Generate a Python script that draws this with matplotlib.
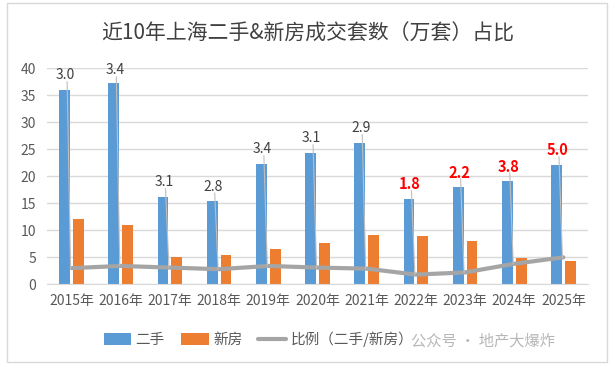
import matplotlib
matplotlib.use("Agg")
import matplotlib.pyplot as plt
from matplotlib.patches import Rectangle
import numpy as np

plt.rcParams['font.family'] = ['Noto Sans CJK SC', 'DejaVu Sans']

years = ["2015年", "2016年", "2017年", "2018年", "2019年", "2020年",
         "2021年", "2022年", "2023年", "2024年", "2025年"]
second_hand = [36.0, 37.3, 16.2, 15.4, 22.3, 24.3, 26.2, 15.8, 18.0, 19.1, 22.1]
new_house = [12.1, 11.0, 5.1, 5.4, 6.5, 7.6, 9.1, 8.9, 8.0, 4.9, 4.3]
ratio = [3.0, 3.4, 3.1, 2.8, 3.4, 3.1, 2.9, 1.8, 2.2, 3.8, 5.0]
highlight = [False] * 7 + [True] * 4

BLUE = "#5B9BD5"
ORANGE = "#ED7D31"
GRAY = "#A5A5A5"
TXT = "#595959"

fig = plt.figure(figsize=(6.15, 3.69), dpi=100)
ax = fig.add_axes([0.0764, 0.2295, 0.8797, 0.5855])

x = np.arange(len(years))
w = 0.22
b1 = ax.bar(x - 0.14, second_hand, w, color=BLUE, label="二手", zorder=2)
b2 = ax.bar(x + 0.14, new_house, w, color=ORANGE, label="新房", zorder=2)
l1, = ax.plot(x, ratio, color=GRAY, lw=3, label="比例（二手/新房）", zorder=3,
              solid_capstyle='round', solid_joinstyle='round')

for i in range(len(years)):
    ly = min(second_hand[i] + 2.7, 39.6)
    ax.plot([x[i] - 0.02, x[i] - 0.09], [ratio[i], ly - 1.2], color="#BFBFBF", lw=0.8, zorder=4)
    if highlight[i]:
        ax.text(x[i] - 0.12, ly, f"{ratio[i]:.1f}", color="red", fontsize=10.5,
                fontweight="bold", ha="center", va="center", zorder=5)
    else:
        ax.text(x[i] - 0.12, ly, f"{ratio[i]:.1f}", color="#404040", fontsize=10,
                ha="center", va="center", zorder=5)

ax.set_ylim(0, 40)
ax.set_xlim(-0.5, len(years) - 0.5)
ax.set_yticks(range(0, 41, 5))
ax.set_xticks(x)
ax.set_xticklabels(years)
ax.tick_params(axis='both', length=0, colors=TXT, labelsize=10)
ax.tick_params(axis='y', pad=8)
ax.tick_params(axis='x', pad=7)
ax.grid(axis='y', color="#D9D9D9", lw=1, zorder=0)
for s in ["top", "right", "left"]:
    ax.spines[s].set_visible(False)
ax.spines["bottom"].set_color("#D9D9D9")

fig.text(0.5, 0.91, "近10年上海二手&新房成交套数（万套）占比", ha="center", va="center",
         fontsize=15, color="#404040")

fig.legend(handles=[b1, b2, l1], loc="center", bbox_to_anchor=(0.42, 0.08), ncol=3,
           frameon=False, fontsize=10.5, handlelength=1.9, handleheight=0.9,
           handletextpad=0.3, columnspacing=1.1, labelcolor=TXT)

fig.text(0.785, 0.075, "公众号 · 地产大爆炸", ha="center", va="center",
         fontsize=11, color="#999999", alpha=0.7)

fig.patches.append(Rectangle((0.011, 0.018), 0.976, 0.975, transform=fig.transFigure,
                             fill=False, edgecolor="#D9D9D9", lw=1))

fig.savefig("out.png", dpi=100, facecolor="white")
